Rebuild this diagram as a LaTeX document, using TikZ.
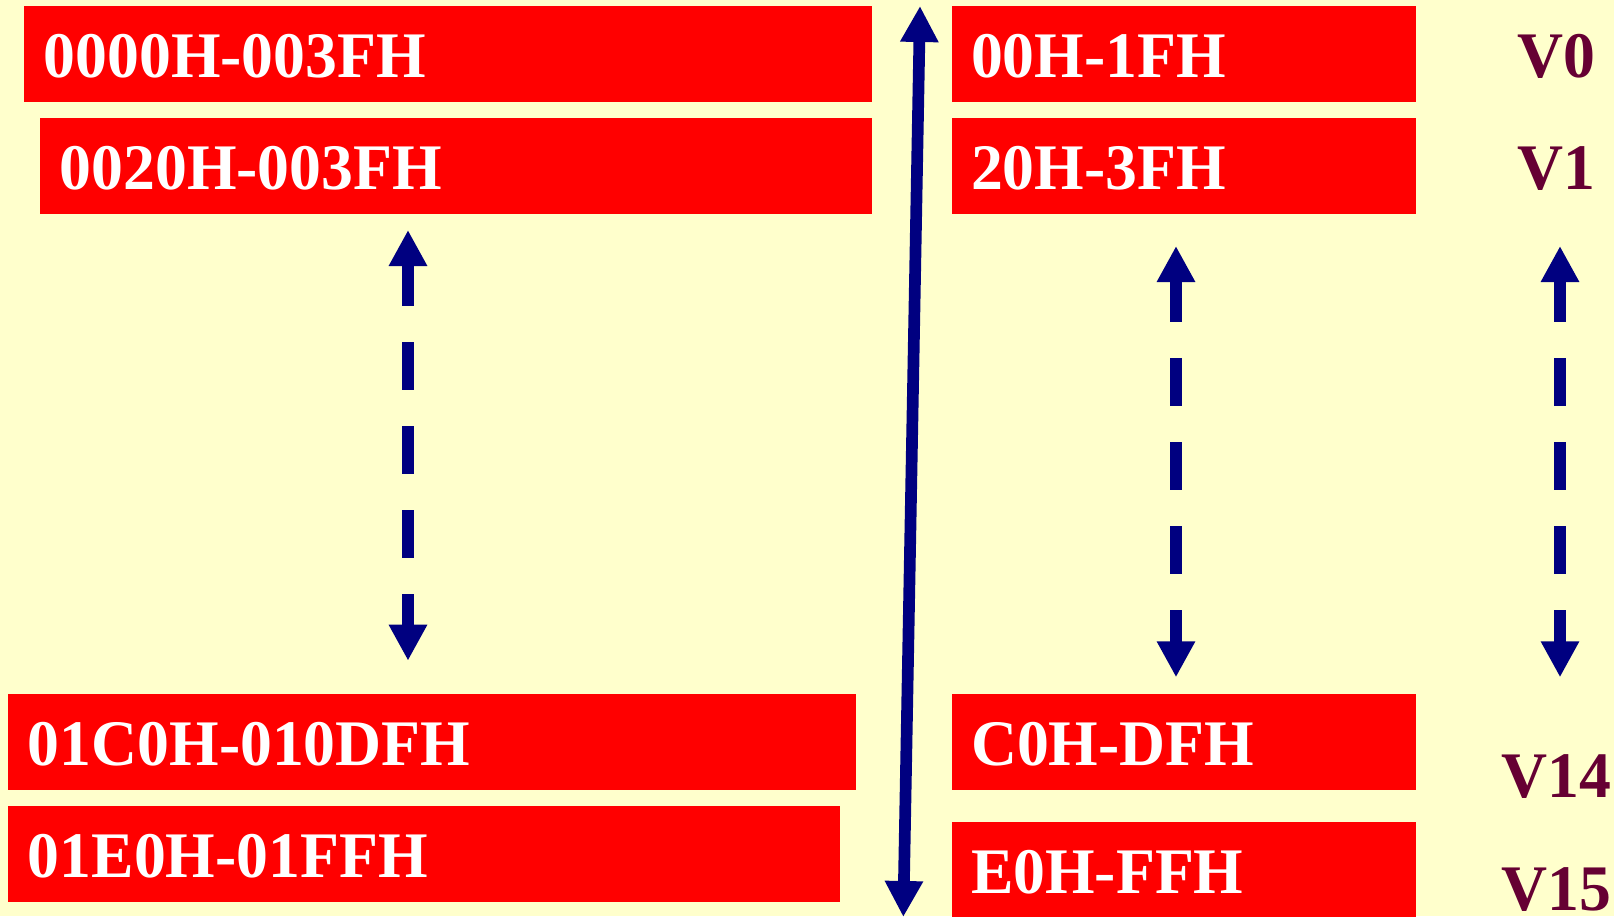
\documentclass[tikz,border=0pt]{standalone}
\usepackage{fontspec}
\setmainfont{Liberation Serif}[FakeStretch=0.98]
\usetikzlibrary{arrows.meta}
\definecolor{bg}{HTML}{FFFFCC}
\definecolor{navy}{HTML}{000080}
\definecolor{vcol}{HTML}{660033}
\begin{document}
\begin{tikzpicture}[x=1pt,y=-1pt,
  membox/.style={fill=red, text=white, anchor=north west, inner xsep=19.5pt, inner ysep=0pt,
    text height=71.5pt, text depth=24.2pt, align=left,
    font=\bfseries\fontsize{65}{78}\selectfont},
  vlab/.style={text=vcol, anchor=base west, inner sep=0pt, font=\bfseries\fontsize{65}{78}\selectfont},
  arr/.style={draw=navy, line width=12pt,
    {Triangle[width=36pt,length=36pt]}-{Triangle[width=36pt,length=36pt]}},
  dashedarr/.style={arr, dash pattern=on 47.7pt off 36.3pt, dash phase=5.7pt}
]
\fill[bg] (0,0) rectangle (1614,916);
\clip (0,0) rectangle (1614,916);

\node[membox, text width=809pt] (a0) at (24,6) {0000H-003FH};
\node[membox, text width=793pt] (a1) at (40,117.7) {0020H-003FH};
\node[membox, text width=808.5pt] (a14) at (8.2,694) {01C0H-010DFH};
\node[membox, text width=792.6pt] (a15) at (8.2,806) {01E0H-01FFH};

\node[membox, text width=425.7pt] (b0) at (951.3,6) {00H-1FH};
\node[membox, text width=425.7pt] (b1) at (951.3,117.7) {20H-3FH};
\node[membox, text width=425.7pt] (b14) at (951.3,694) {C0H-DFH};
\node[membox, text width=425.7pt] (b15) at (951.3,822) {E0H-FFH};

\node[vlab] (v0) at (1517,77.3) {V0};
\node[vlab] (v1) at (1517,189.3) {V1};
\node[vlab] (v14) at (1501,797.7) {V14};
\node[vlab] (v15) at (1501,910) {V15};

\coordinate (d1t) at (408,230);
\coordinate (d1b) at (408,660.7);
\coordinate (d2t) at (1176,246);
\coordinate (d2b) at (1176,677.3);
\coordinate (d3t) at (1560,246);
\coordinate (d3b) at (1560,677.3);
\coordinate (lt) at (920,6);
\coordinate (lb) at (903.3,917);

\draw[dashedarr] (d1t) -- (d1b);
\draw[dashedarr] (d2t) -- (d2b);
\draw[dashedarr] (d3t) -- (d3b);
\draw[arr, line width=11.7pt] (lt) -- (lb);
\end{tikzpicture}
\end{document}
